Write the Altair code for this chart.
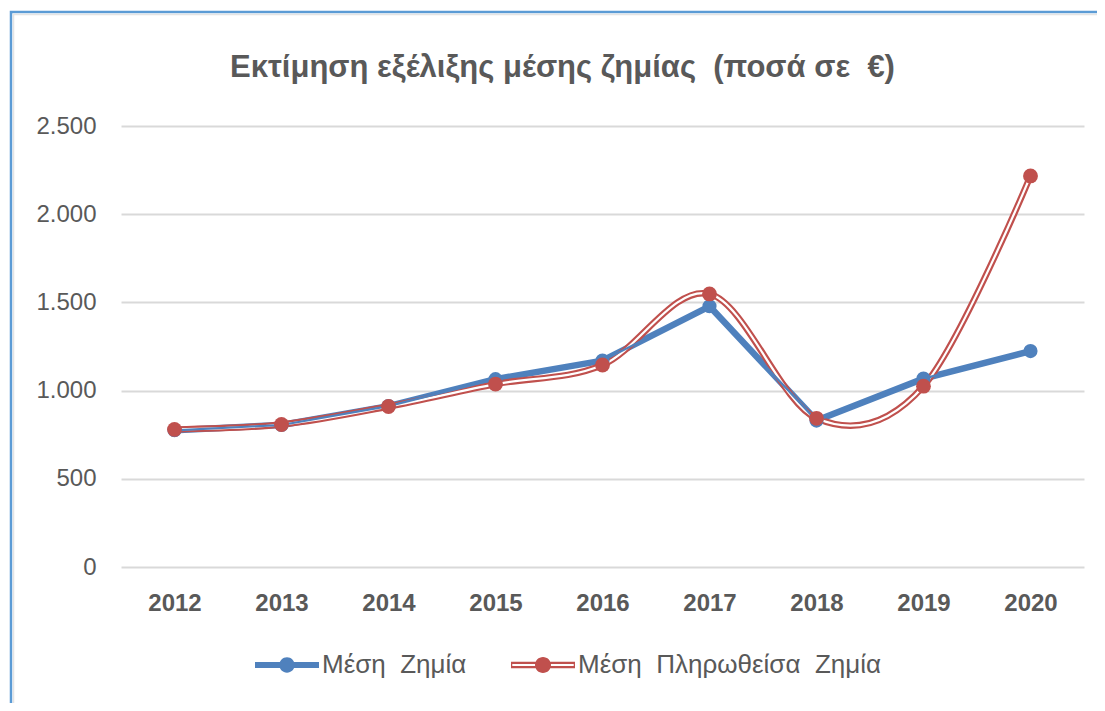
import altair as alt
import pandas as pd

years = ["2012", "2013", "2014", "2015", "2016", "2017", "2018", "2019", "2020"]
series_names = ["Μέση \u00a0Ζημία", "Μέση \u00a0Πληρωθείσα \u00a0Ζημία"]
mesi_zimia = [775, 805, 912, 1065, 1170, 1478, 830, 1068, 1224]
mesi_plirotheisa = [780, 808, 910, 1037, 1145, 1548, 843, 1025, 2217]
y_ticks = [0, 500, 1000, 1500, 2000, 2500]
title_text = "Εκτίμηση εξέλιξης μέσης ζημίας \u00a0(ποσά σε \u00a0€)"

BLUE = "#4F81BD"
RED = "#C0504D"
TEXT = "#595959"
GRID = "#D9D9D9"
FRAME = "#5B9BD5"
FONT = "Liberation Sans"

rows = []
for y, v in zip(years, mesi_zimia):
    rows.append({"year": y, "series": series_names[0], "value": v})
for y, v in zip(years, mesi_plirotheisa):
    rows.append({"year": y, "series": series_names[1], "value": v})
df = pd.DataFrame(rows)

W, H = 963, 441

x_enc = alt.X("year:N", scale=alt.Scale(domain=years, padding=0.5),
              axis=alt.Axis(title=None, labelAngle=0, labelFont=FONT,
                            labelFontSize=24, labelFontWeight="bold", labelColor=TEXT,
                            labelPadding=24, ticks=False, domain=False, grid=False))
y_enc = alt.Y("value:Q", scale=alt.Scale(domain=[0, 2500], nice=False),
              axis=alt.Axis(title=None, values=y_ticks,
                            labelExpr="replace(format(datum.value, ','), ',', '.')",
                            labelFont=FONT, labelFontSize=24, labelColor=TEXT,
                            labelPadding=25, ticks=False, domain=False,
                            grid=True, gridColor=GRID, gridWidth=2))

base = alt.Chart(df)
blue = base.transform_filter(alt.datum.series == series_names[0])
red = base.transform_filter(alt.datum.series == series_names[1])

blue_wide = blue.mark_line(color=BLUE, strokeWidth=6.5, strokeJoin="round").encode(x=x_enc, y=y_enc)
red_outer = red.mark_line(color=RED, strokeWidth=6.5, interpolate="cardinal").encode(x="year:N", y="value:Q")
red_inner = red.mark_line(color="white", strokeWidth=2.2, interpolate="cardinal").encode(x="year:N", y="value:Q")
blue_narrow = blue.mark_line(color=BLUE, strokeWidth=2.2).encode(x="year:N", y="value:Q")
blue_pts = blue.mark_circle(color=BLUE, size=200, opacity=1).encode(x="year:N", y="value:Q")
red_pts = red.mark_circle(color=RED, size=220, opacity=1).encode(x="year:N", y="value:Q")

blue_sym = ("M-1,-0.094H1V0.094H-1Z"
            "M-0.24,0A0.24,0.24 0 1 1 0.24,0A0.24,0.24 0 1 1 -0.24,0Z")
red_sym = ("M-1,-0.1H1V0.1H-1Z"
           "M-0.96,-0.032V0.032H0.96V-0.032Z"
           "M-0.25,0A0.25,0.25 0 1 1 0.25,0A0.25,0.25 0 1 1 -0.25,0Z")

legend_layer = base.transform_filter("false").mark_point(filled=True, opacity=1, size=4096).encode(
    x="year:N", y="value:Q",
    color=alt.Color("series:N", scale=alt.Scale(domain=series_names, range=[BLUE, RED]),
                    legend=alt.Legend(title=None, orient="none", direction="horizontal",
                                      legendX=134, legendY=507, symbolSize=4096,
                                      symbolStrokeWidth=0, labelFont=FONT,
                                      labelFontSize=26, labelColor=TEXT, labelOffset=3,
                                      labelLimit=600, columnPadding=44, symbolOpacity=1)),
    shape=alt.Shape("series:N", scale=alt.Scale(domain=series_names, range=[blue_sym, red_sym]),
                    legend=None),
)

title_layer = alt.Chart(pd.DataFrame({"t": [title_text]})).mark_text(
    font=FONT, fontSize=31, fontWeight="bold", color=TEXT, align="center", baseline="middle"
).encode(text="t:N", x=alt.value(W / 2 - 40), y=alt.value(-58))

frame = alt.Chart(pd.DataFrame({"k": [0]})).mark_rect(
    fill=None, stroke=FRAME, strokeWidth=2.5
).encode(x=alt.value(-110), x2=alt.value(W + 80), y=alt.value(-114), y2=alt.value(H + 200))
frame_inner = alt.Chart(pd.DataFrame({"k": [0]})).mark_rect(
    fill=None, stroke="#E4E4E4", strokeWidth=1.5
).encode(x=alt.value(-107.5), x2=alt.value(W + 80), y=alt.value(-111.5), y2=alt.value(H + 200))

chart = alt.layer(
    frame, frame_inner, title_layer, blue_wide, red_outer, red_inner, blue_narrow,
    blue_pts, red_pts, legend_layer
).properties(
    width=W, height=H,
    autosize=alt.AutoSizeParams(type="none"),
    padding={"left": 113, "top": 118, "right": 13, "bottom": 136},
    background="white",
).configure_view(stroke=None)

chart.save("out.html", embed_options={"renderer": "svg", "actions": False})
